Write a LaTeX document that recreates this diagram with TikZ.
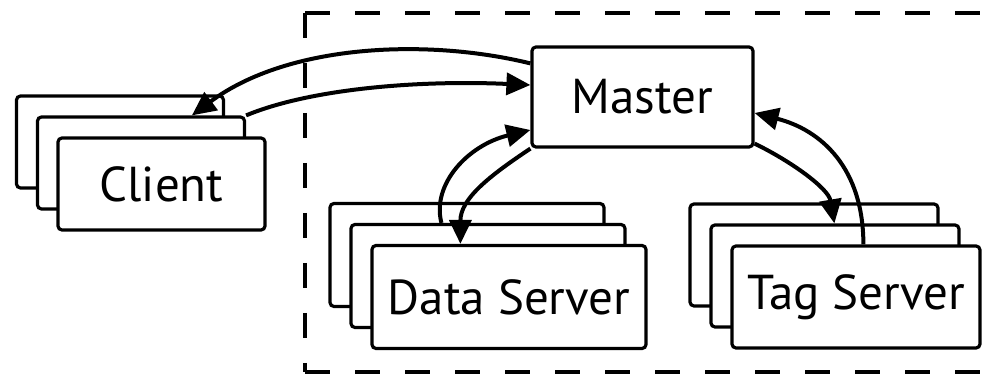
\documentclass[tikz,border=0pt]{standalone}
\usepackage{fontspec}
\setmainfont{PT Sans}
\usetikzlibrary{arrows.meta,calc}
\begin{document}
\begin{tikzpicture}[x=0.5pt,y=-0.5pt,
  box/.style={draw, line width=1.6pt, fill=white, rounded corners=2pt, inner sep=0pt, font=\fontsize{24.5}{29}\selectfont},
  clientbox/.style={box, minimum width=103.5pt, minimum height=46pt},
  masterbox/.style={box, minimum width=110.5pt, minimum height=50pt},
  databox/.style={box, minimum width=137pt, minimum height=51.5pt},
  tagbox/.style={box, minimum width=124pt, minimum height=51pt},
  conn/.style={line width=2pt, -{Triangle[length=12pt,width=11pt]}},
  frameline/.style={line width=2pt, dash pattern=on 12.5pt off 12.5pt}]
\useasboundingbox (0,0) rectangle (998,378);
% dashed frame (right side lies beyond the picture)
\begin{scope}
\clip (0,0) rectangle (998,378);
\coordinate (ftl) at (305,13);
\coordinate (fbl) at (305,372);
\coordinate (ftr) at (1040,13);
\coordinate (fbr) at (1040,372);
\draw[frameline] (ftl) -- (ftr);
\draw[frameline] (ftl) -- (fbl);
\draw[frameline] (fbl) -- (fbr);
\end{scope}
% client stack
\node[clientbox] (client3) at (120,142) {};
\node[clientbox] (client2) at (141,163) {};
\node[clientbox] (client) at (161.5,184) {Client};
% master
\node[masterbox] (master) at (642.5,97) {Master};
% data server stack
\node[databox] (data3) at (467,255) {};
\node[databox] (data2) at (488,276) {};
\node[databox] (data) at (509,297) {Data Server};
% tag server stack
\node[tagbox] (tag3) at (814,255) {};
\node[tagbox] (tag2) at (835,276) {};
\node[tagbox] (tag) at (856,297) {Tag Server};
% connectors
\draw[conn] ($(master.north west)+(0,18)$) .. controls +(-102,-25) and +(97,-72) .. ($(client2.north west)+(156,0)$);
\draw[conn] (client2.north east) .. controls +(65,-27) and +(-110,-5) .. ($(master.west)+(0,-12)$);
\draw[conn] (master.south west) .. controls +(-42,28) and +(0,-45) .. ($(data.north west)+(90,0)$);
\draw[conn] ($(data2.north west)+(92,0)$) .. controls +(-10,-39) and +(-62,15) .. ($(master.west)+(0,33)$);
\draw[conn] ($(master.south east)+(0,-5)$) .. controls +(37,18) and +(-6,-35) .. ($(tag2.north west)+(125,0)$);
\draw[conn] ($(tag.north west)+(133,0)$) .. controls +(0,-76) and +(67,17) .. ($(master.east)+(0,16)$);
\end{tikzpicture}
\end{document}
